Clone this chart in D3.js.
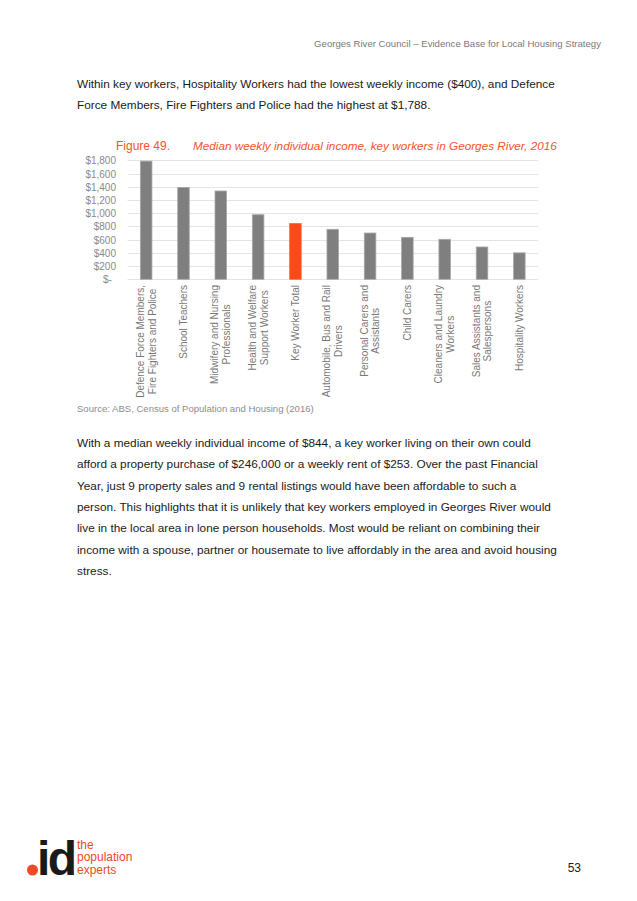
<!DOCTYPE html>
<html lang="en">
<head>
<meta charset="UTF-8"/>
<title>Median weekly individual income, key workers</title>
<script src="https://d3js.org/d3.v7.min.js"></script>
<style>
html, body { margin: 0; padding: 0; background: #fff; overflow: hidden; }
svg { display: block; font-family: "Liberation Sans", Arial, sans-serif; }
.header { font-size: 9.6px; fill: #7a7a7a; }
.para { font-size: 11.8px; fill: #1a1a1a; }
.fig { font-size: 12px; fill: #f2542d; }
.tick text { font-size: 10px; fill: #8a8a8a; }
.grid line { stroke: #e4e4e4; stroke-width: 1; }
.cat { font-size: 10px; fill: #787878; }
.source { font-size: 9.55px; fill: #8c8c8c; }
</style>
</head>
<body>
<svg width="637" height="901"></svg>
<script>
// chart data
const categories = [
  ['Defence Force Members,', 'Fire Fighters and Police'],
  ['School Teachers'],
  ['Midwifery and Nursing', 'Professionals'],
  ['Health and Welfare', 'Support Workers'],
  ['Key Worker Total'],
  ['Automobile, Bus and Rail', 'Drivers'],
  ['Personal Carers and', 'Assistants'],
  ['Child Carers'],
  ['Cleaners and Laundry', 'Workers'],
  ['Sales Assistants and', 'Salespersons'],
  ['Hospitality Workers']
];
const income = [1788, 1390, 1336, 977, 844, 756, 700, 635, 605, 489, 400];
const yTicks = [0, 200, 400, 600, 800, 1000, 1200, 1400, 1600, 1800];

const para1 = [
  'Within key workers, Hospitality Workers had the lowest weekly income ($400), and Defence',
  'Force Members, Fire Fighters and Police had the highest at $1,788.'
];
const para2 = [
  'With a median weekly individual income of $844, a key worker living on their own could',
  'afford a property purchase of $246,000 or a weekly rent of $253. Over the past Financial',
  'Year, just 9 property sales and 9 rental listings would have been affordable to such a',
  'person. This highlights that it is unlikely that key workers employed in Georges River would',
  'live in the local area in lone person households. Most would be reliant on combining their',
  'income with a spouse, partner or housemate to live affordably in the area and avoid housing',
  'stress.'
];

const svg = d3.select('svg');

// page header
svg.append('text')
  .attr('class', 'header')
  .attr('x', 601).attr('y', 47)
  .attr('text-anchor', 'end')
  .text('Georges River Council \u2013 Evidence Base for Local Housing Strategy');

svg.append('g').selectAll('text')
  .data(para1).enter().append('text')
  .attr('class', 'para')
  .attr('x', 77)
  .attr('y', (d, i) => 88 + i * 21)
  .text(d => d);

// figure title
svg.append('text')
  .attr('class', 'fig')
  .attr('x', 116).attr('y', 150)
  .text('Figure 49.');
svg.append('text')
  .attr('class', 'fig')
  .attr('x', 193).attr('y', 150)
  .style('font-style', 'italic')
  .style('font-size', '11.75px')
  .text('Median weekly individual income, key workers in Georges River, 2016');

// chart
const x = d3.scaleBand()
  .domain(d3.range(categories.length))
  .range([127.5, 538])
  .paddingInner(0.69)
  .paddingOuter(0.345);

const y = d3.scaleLinear()
  .domain([0, 1800])
  .range([279.3, 160.3]);

svg.append('g')
  .attr('class', 'grid')
  .selectAll('line')
  .data(yTicks).enter().append('line')
  .attr('x1', 127.5).attr('x2', 538)
  .attr('y1', d => Math.round(y(d)) + 0.5)
  .attr('y2', d => Math.round(y(d)) + 0.5);

const yAxis = svg.append('g')
  .attr('transform', 'translate(127, 0)')
  .attr('color', '#8a8a8a')
  .call(d3.axisLeft(y)
    .tickValues(yTicks)
    .tickSize(0)
    .tickPadding(11)
    .tickFormat(d => d === 0 ? '$-' : '$' + d3.format(',')(d)));
yAxis.select('.domain').remove();
yAxis.selectAll('text').attr('dy', '0.35em');
yAxis.selectAll('.tick').filter(d => d === 0).select('text')
  .attr('text-anchor', 'start').attr('x', -24);

svg.append('g').selectAll('rect')
  .data(income).enter().append('rect')
  .attr('x', (d, i) => x(i))
  .attr('y', d => y(d))
  .attr('width', x.bandwidth())
  .attr('height', d => y(0) - y(d))
  .attr('fill', (d, i) => i === 4 ? '#fb4a18' : '#7f7f7f')
  .attr('stroke', (d, i) => i === 4 ? '#fb6a40' : '#a8a8a8')
  .attr('stroke-width', 0.8);

// rotated category labels, top aligned under the axis, lines centred
const labelTop = 285;
const lineGap = 11.8;
categories.forEach((lines, i) => {
  const cx = x(i) + x.bandwidth() / 2;
  const g = svg.append('g')
    .attr('transform', `translate(${cx}, ${labelTop}) rotate(-90)`);
  const t = g.append('text').attr('class', 'cat').attr('text-anchor', 'middle');
  const spans = lines.map((l, j) => t.append('tspan')
    .attr('y', (j - (lines.length - 1) / 2) * lineGap)
    .attr('dy', '0.35em')
    .text(l));
  const w = d3.max(spans, s => s.node().getComputedTextLength());
  spans.forEach(s => s.attr('x', -w / 2));
});

svg.append('text')
  .attr('class', 'source')
  .attr('x', 77).attr('y', 412)
  .text('Source: ABS, Census of Population and Housing (2016)');

svg.append('g').selectAll('text')
  .data(para2).enter().append('text')
  .attr('class', 'para')
  .attr('x', 77)
  .attr('y', (d, i) => 447 + i * 21.3)
  .text(d => d);

// footer logo
const logo = svg.append('g');
logo.append('text')
  .attr('x', 37).attr('y', 875)
  .style('font-weight', 'bold')
  .style('font-size', '48px')
  .style('letter-spacing', '-2.5px')
  .attr('fill', '#1a1a1a')
  .text('id');
logo.append('circle')
  .attr('cx', 32.5).attr('cy', 870).attr('r', 5.5)
  .attr('fill', '#ee4a23');
logo.selectAll('text.tag')
  .data(['the', 'population', 'experts']).enter().append('text')
  .attr('class', 'tag')
  .attr('x', 77)
  .attr('y', (d, i) => 849 + i * 12.3)
  .style('font-size', '12px')
  .attr('fill', '#ee4a23')
  .text(d => d);

svg.append('text')
  .attr('x', 581).attr('y', 872)
  .attr('text-anchor', 'end')
  .style('font-size', '12px')
  .attr('fill', '#1a1a1a')
  .text('53');
</script>
</body>
</html>
